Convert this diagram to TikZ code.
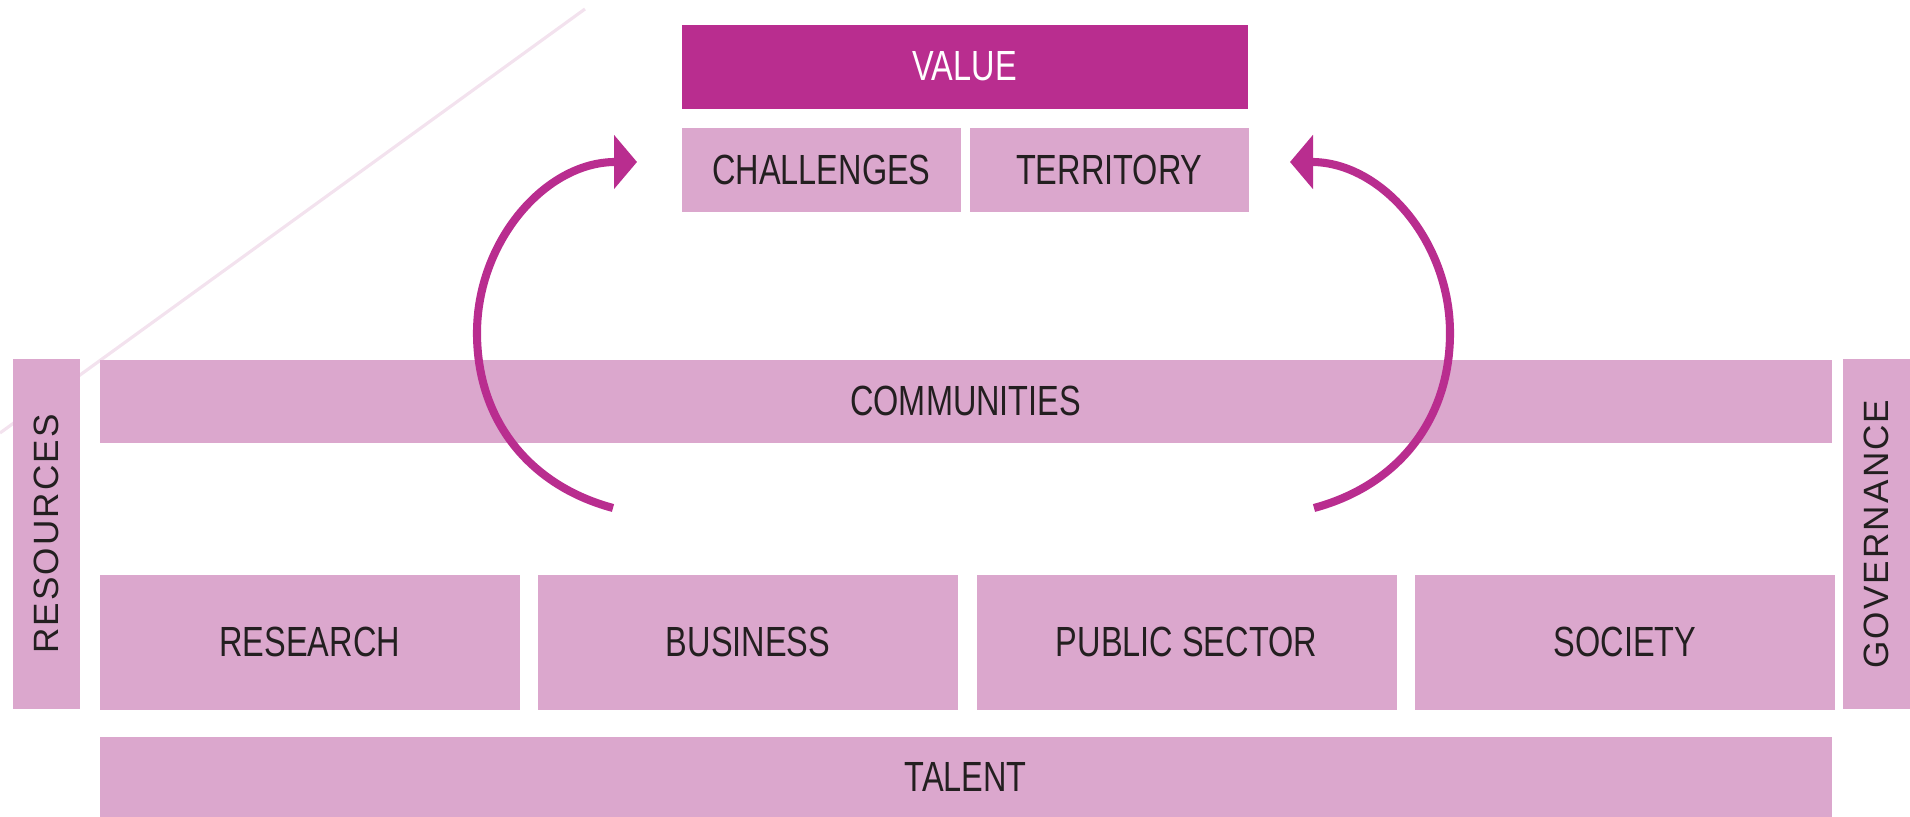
\documentclass[tikz,border=0pt]{standalone}
\usepackage{fontspec}
\usetikzlibrary{positioning,arrows.meta}
\newfontfamily\condfont[FakeStretch=0.77]{Liberation Sans}
\newfontfamily\sidefont[LetterSpace=6]{Liberation Sans}
\definecolor{plum}{HTML}{B92D8F}
\definecolor{lilac}{HTML}{DBA7CD}
\definecolor{haze}{HTML}{F3E2EE}
\definecolor{ink}{HTML}{231F20}

\begin{document}
\begin{tikzpicture}[
    box/.style={rectangle, fill=lilac, text=ink, inner sep=0pt, anchor=north west, font=\condfont\fontsize{12}{14}\selectfont},
    rowbox/.style={box, minimum width=4.2cm, minimum height=1.35cm},
    sidebox/.style={box, anchor=center, rotate=90, minimum width=3.5cm, minimum height=0.67cm, font=\sidefont\fontsize{10}{12}\selectfont},
    looparrow/.style={draw=plum, line width=2.3pt, -{Triangle[length=2.3mm, width=5.3mm]}}
]
\useasboundingbox (0,0) rectangle (19.10,8.17);

% faint diagonal in the back
\draw[haze, line width=0.9pt] (0,3.84) -- (5.85,8.08);

% top
\node[box, fill=plum, text=white, minimum width=5.66cm, minimum height=0.84cm] (value) at (6.81,7.93) {VALUE};
\node[box, minimum width=2.795cm, minimum height=0.84cm] (challenges) at (6.81,6.90) {CHALLENGES};
\node[box, minimum width=2.795cm, minimum height=0.84cm, right=0.07cm of challenges] (territory) {TERRITORY};

% middle band and sides
\node[box, minimum width=17.32cm, minimum height=0.83cm] (communities) at (0.99,4.58) {COMMUNITIES};
\node[sidebox] (resources) at (0.465,2.83) {RESOURCES};
\node[sidebox] (governance) at (18.765,2.83) {GOVERNANCE};

% actors
\node[rowbox] (research) at (0.99,2.43) {RESEARCH};
\node[rowbox, right=0.17cm of research] (business) {BUSINESS};
\node[rowbox, right=0.17cm of business] (public) {PUBLIC SECTOR};
\node[rowbox, right=0.17cm of public] (society) {SOCIETY};

\node[box, minimum width=17.32cm, minimum height=0.81cm] (talent) at (0.99,0.81) {TALENT};

% loops
\coordinate (lstart) at (6.13,3.09);
\coordinate (lbend) at (4.77,4.84);
\coordinate (ltip) at (6.37,6.55);
\coordinate (rstart) at (13.14,3.09);
\coordinate (rbend) at (14.50,4.84);
\coordinate (rtip) at (12.90,6.55);

\draw[looparrow] (lstart) to[out=165,in=-90] (lbend) to[out=90,in=180] (ltip);
\draw[looparrow] (rstart) to[out=15,in=-90] (rbend) to[out=90,in=0] (rtip);

\end{tikzpicture}
\end{document}
